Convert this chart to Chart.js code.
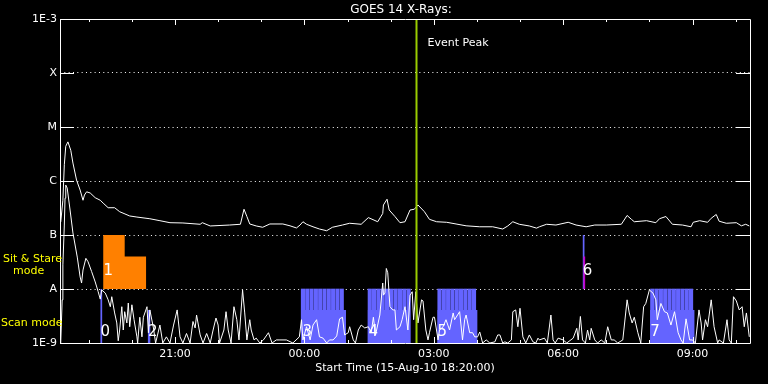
<!DOCTYPE html>
<html>
<head>
<meta charset="utf-8">
<script src="https://cdn.jsdelivr.net/npm/chart.js@4.4.1/dist/chart.umd.min.js"></script>
<style>
    html, body { margin: 0; padding: 0; background: #000; }
    canvas { display: block; }
</style>
</head>
<body>
<canvas id="goes_Chart" width="768" height="384"></canvas>
<script>
// times are minutes after the start time (15-Aug-10 18:20:00)
const chartTitle = "GOES 14 X-Rays:";
const startLabel = "Start Time (15-Aug-10 18:20:00)";
const timeTicks = [160, 340, 520, 700, 880];
const timeTickLabels = ["21:00", "00:00", "03:00", "06:00", "09:00"];
const hourMarks = [40, 100, 160, 220, 280, 340, 400, 460, 520, 580, 640, 700, 760, 820, 880, 940];
const fluxTicks = [1e-9, 1e-8, 1e-7, 1e-6, 1e-5, 1e-4, 1e-3];
const fluxTickLabels = ["1E-9", "A", "B", "C", "M", "X", "1E-3"];
const eventPeakTime = 496;

// 1-8 A channel
const longTime = [1, 4, 6, 8, 11, 15, 18, 23, 28, 32, 34, 37, 42, 49, 56, 60, 67, 76, 83, 97,
    107, 125, 139, 153, 171, 195, 198, 209, 236, 251, 256, 260, 264, 273, 282, 292, 310, 320, 329, 334,
    338, 343, 352, 361, 371, 379, 393, 403, 419, 429, 442, 449, 450, 455, 458, 466, 473, 480, 487, 493,
    498, 507, 514, 524, 538, 551, 565, 584, 602, 616, 623, 630, 639, 653, 663, 667, 677, 690, 707, 718,
    732, 744, 760, 781, 789, 795, 799, 816, 829, 834, 843, 852, 866, 878, 881, 890, 901, 906, 913, 917,
    927, 941, 948, 954, 959];
const longFlux = [1.74e-7, 4.4e-7, 2.0e-6, 4.4e-6, 5.3e-6, 3.7e-6, 2.15e-6, 1.04e-6, 6.8e-7, 4.4e-7,
    5.5e-7, 6.3e-7, 6.0e-7, 4.9e-7, 4.4e-7, 3.9e-7, 3.2e-7, 3.2e-7, 2.7e-7, 2.25e-7,
    2.15e-7, 2.0e-7, 1.84e-7, 1.69e-7, 1.67e-7, 1.58e-7, 1.69e-7, 1.47e-7, 1.53e-7, 1.58e-7,
    3.0e-7, 2.2e-7, 1.6e-7, 1.47e-7, 1.39e-7, 1.6e-7, 1.6e-7, 1.48e-7, 1.35e-7, 1.53e-7,
    1.76e-7, 1.58e-7, 1.42e-7, 1.29e-7, 1.2e-7, 1.39e-7, 1.53e-7, 1.65e-7, 1.58e-7, 2.1e-7,
    1.76e-7, 2.5e-7, 3.6e-7, 4.6e-7, 2.9e-7, 2.2e-7, 1.69e-7, 1.76e-7, 2.9e-7, 3.0e-7,
    3.6e-7, 2.7e-7, 1.95e-7, 1.76e-7, 1.72e-7, 1.6e-7, 1.48e-7, 1.42e-7, 1.42e-7, 1.29e-7,
    1.47e-7, 1.76e-7, 1.58e-7, 1.47e-7, 1.34e-7, 1.42e-7, 1.58e-7, 1.53e-7, 1.72e-7, 1.53e-7,
    1.42e-7, 1.53e-7, 1.53e-7, 1.58e-7, 2.3e-7, 1.95e-7, 1.76e-7, 1.84e-7, 1.69e-7, 2.0e-7,
    2.2e-7, 1.58e-7, 1.53e-7, 1.42e-7, 1.72e-7, 1.84e-7, 1.72e-7, 2.04e-7, 2.4e-7, 1.8e-7,
    1.65e-7, 1.69e-7, 1.48e-7, 1.58e-7, 1.47e-7];

// 0.5-4 A channel
const shortTime = [1, 3, 4, 6, 7, 8, 10, 14, 18, 24, 28, 30, 32, 36, 39, 44, 49, 53, 56, 58,
    63, 67, 70, 72, 76, 79, 81, 83, 86, 88, 90, 93, 95, 97, 100, 103, 107, 108, 111, 114,
    116, 121, 123, 125, 130, 133, 139, 143, 148, 153, 158, 163, 167, 171, 176, 181, 185, 188, 190, 195,
    199, 204, 209, 213, 217, 220, 222, 228, 231, 234, 238, 242, 246, 249, 254, 257, 260, 264, 266, 270,
    273, 278, 283, 290, 295, 301, 306, 315, 324, 333, 336, 338, 343, 348, 352, 357, 361, 366, 371, 375,
    380, 385, 389, 393, 396, 401, 403, 408, 411, 415, 419, 424, 429, 433, 436, 439, 445, 449, 450, 452,
    454, 456, 459, 463, 466, 468, 473, 476, 480, 484, 487, 490, 492, 495, 498, 503, 505, 509, 512, 514,
    519, 521, 526, 528, 533, 537, 542, 547, 549, 556, 560, 563, 565, 570, 574, 577, 581, 584, 588, 593,
    598, 605, 609, 612, 616, 619, 623, 628, 630, 634, 637, 640, 644, 648, 653, 658, 662, 665, 667, 674,
    678, 683, 686, 689, 693, 700, 705, 714, 719, 721, 724, 727, 731, 734, 737, 739, 744, 748, 753, 758,
    762, 767, 771, 776, 783, 789, 792, 796, 799, 804, 808, 812, 815, 820, 825, 829, 831, 836, 841, 845,
    850, 855, 860, 864, 867, 871, 876, 880, 884, 889, 892, 894, 898, 901, 906, 910, 915, 917, 923, 928,
    931, 934, 937, 941, 945, 949, 952, 955, 959];
const shortFlux = [1e-9, 6.3e-9, 2.8e-8, 1.53e-7, 4.8e-7, 8.4e-7, 7.4e-7, 2.9e-7, 1.09e-7, 3.9e-8,
    1.67e-8, 1.29e-8, 2.25e-8, 3.7e-8, 3.2e-8, 2.1e-8, 1.35e-8, 9.0e-9, 6.5e-9, 9.6e-9,
    8.4e-9, 6.3e-9, 4.7e-9, 7.2e-9, 3.6e-9, 2.35e-9, 1.1e-9, 1.74e-9, 4.7e-9, 1.74e-9,
    3.8e-9, 2.35e-9, 5.5e-9, 2.0e-9, 5.1e-9, 2.7e-9, 1.3e-9, 1e-9, 3.0e-9, 1.3e-9,
    3.0e-9, 4.7e-9, 1.55e-9, 4.1e-9, 1.9e-9, 1e-9, 2.15e-9, 1e-9, 1.3e-9, 1e-9,
    2.15e-9, 4.1e-9, 1.3e-9, 1e-9, 1.5e-9, 1e-9, 2.5e-9, 1.9e-9, 3.3e-9, 1.41e-9,
    1e-9, 1.5e-9, 1e-9, 1.74e-9, 2.9e-9, 2.15e-9, 1e-9, 1.74e-9, 3.8e-9, 1.74e-9,
    1e-9, 4.7e-9, 2.7e-9, 1.14e-9, 9.6e-9, 3.6e-9, 1.14e-9, 2.7e-9, 1.74e-9, 1.14e-9,
    1.23e-9, 1e-9, 1.14e-9, 1.55e-9, 1e-9, 1.14e-9, 1.14e-9, 1.14e-9, 1.0e-9, 1.3e-9,
    2.7e-9, 1.14e-9, 2.0e-9, 1.14e-9, 2.15e-9, 2.7e-9, 1.3e-9, 1.23e-9, 1e-9, 1.14e-9,
    1.14e-9, 1.35e-9, 2.8e-9, 3.0e-9, 1.41e-9, 1.55e-9, 2.0e-9, 1.14e-9, 1e-9, 1.74e-9,
    2.15e-9, 1.9e-9, 2.0e-9, 1.55e-9, 3.0e-9, 1.41e-9, 3.3e-9, 1.29e-8, 7.7e-9, 8.4e-9,
    2.4e-8, 2.0e-8, 4.7e-9, 4.1e-9, 4.1e-9, 1.74e-9, 2.0e-9, 2.7e-9, 4.7e-9, 1.74e-9,
    7.7e-9, 8.9e-9, 2.7e-9, 8.9e-9, 2.35e-9, 6.3e-9, 6.0e-9, 1.74e-9, 1.14e-9, 1.55e-9,
    3.0e-9, 3.0e-9, 1.14e-9, 1.74e-9, 2.0e-9, 2.7e-9, 1.74e-9, 3.6e-9, 2.7e-9, 3.8e-9,
    1.14e-9, 2.7e-9, 3.3e-9, 1.55e-9, 1.55e-9, 1.3e-9, 1.3e-9, 1.6e-9, 1e-9, 1.14e-9,
    1e-9, 1.05e-9, 1.41e-9, 1.41e-9, 1e-9, 1.05e-9, 1e-9, 1.14e-9, 3.8e-9, 4.1e-9,
    2.0e-9, 4.4e-9, 1.3e-9, 1e-9, 1.41e-9, 1.05e-9, 1e-9, 1.23e-9, 1.14e-9, 1.23e-9,
    1e-9, 3.3e-9, 1.14e-9, 1e-9, 1.23e-9, 1.14e-9, 1e-9, 1.23e-9, 1.87e-9, 1.14e-9,
    3.1e-9, 1.14e-9, 1e-9, 1.74e-9, 1.14e-9, 1.87e-9, 1.14e-9, 1e-9, 1.14e-9, 1e-9,
    2.0e-9, 1.14e-9, 1.14e-9, 1e-9, 1.14e-9, 6.3e-9, 3.6e-9, 2.35e-9, 3.0e-9, 1.55e-9,
    1e-9, 4.7e-9, 5.4e-9, 9.6e-9, 8.4e-9, 6.3e-9, 2.7e-9, 5.4e-9, 3.8e-9, 3.6e-9,
    2.15e-9, 3.8e-9, 1.55e-9, 1.14e-9, 1e-9, 2.8e-9, 1.14e-9, 1.14e-9, 1e-9, 4.1e-9,
    2.35e-9, 1.14e-9, 2.7e-9, 2.0e-9, 6.3e-9, 2.0e-9, 1e-9, 1.14e-9, 1e-9, 2.7e-9,
    1.14e-9, 1e-9, 7.2e-9, 6.0e-9, 4.1e-9, 4.7e-9, 2.0e-9, 3.6e-9, 1.3e-9];

// sit & stare pointing 1 (stepped block between A and B)
const stareTime = [60, 90, 90, 120];
const stareFlux = [1e-7, 1e-7, 4e-8, 4e-8];
// sit & stare pointing 6
const stareLineTime = [727, 730];
const stareMarkTime = [728, 731];
const stareMarkFlux = 4e-8;

// scan mode blocks
const scanStart = [56, 122, 336, 428, 525, 821];
const scanEnd = [59, 126, 398, 487, 581, 883];
const scanTop = [1e-8, 4.1e-9, 4.1e-9, 4.1e-9, 4.1e-9, 4.1e-9];
const scanTeeth = [338, 344, 350, 356, 362, 368, 374, 380, 386, 392,
    431, 437, 443, 449, 455, 461, 467, 473, 479, 485,
    528, 534, 540, 546, 552, 558, 564, 570, 576,
    824, 830, 836, 842, 848, 854, 860, 866, 872, 878];

const regionLabels = ["0", "1", "2", "3", "4", "5", "6", "7"];
const regionLabelTime = [63, 67, 129, 344, 436, 532, 734, 828];
const regionLabelFlux = [1.6e-9, 2.1e-8, 1.6e-9, 1.6e-9, 1.6e-9, 1.6e-9, 2.1e-8, 1.6e-9];

const BLUE = "#6464ff";
const ORANGE = "#ff8000";
const MAGENTA = "#c800c8";
const GREEN = "#99cc00";
const YELLOW = "#ffff00";
const FONT = "DejaVu Sans";

function graph() {
    let datasets = [];

    datasets.push({
        type: "line",
        data: [{ x: eventPeakTime, y: 1e-9 }, { x: eventPeakTime, y: 1e-3 }],
        borderColor: GREEN,
        borderWidth: 2,
        pointRadius: 0,
        order: 0
    });
    datasets.push({
        type: "line",
        data: longTime.map((t, i) => ({ x: t, y: longFlux[i] })),
        borderColor: "#fff",
        borderWidth: 1,
        pointRadius: 0,
        order: 1
    });
    datasets.push({
        type: "line",
        data: shortTime.map((t, i) => ({ x: t, y: shortFlux[i] })),
        borderColor: "#fff",
        borderWidth: 1,
        pointRadius: 0,
        order: 1
    });

    datasets.push({
        type: "line",
        data: stareTime.map((t, i) => ({ x: t, y: stareFlux[i] })),
        borderWidth: 0,
        pointRadius: 0,
        backgroundColor: ORANGE,
        fill: { value: 1e-8 },
        order: 3
    });
    datasets.push({
        type: "line",
        data: stareLineTime.map(t => ({ x: t, y: 1e-7 })),
        borderWidth: 0,
        pointRadius: 0,
        backgroundColor: BLUE,
        fill: { value: 1e-8 },
        order: 3
    });
    datasets.push({
        type: "line",
        data: stareMarkTime.map(t => ({ x: t, y: stareMarkFlux })),
        borderWidth: 0,
        pointRadius: 0,
        backgroundColor: MAGENTA,
        fill: { value: 1e-8 },
        order: 2
    });

    for (let i = 0; i < scanStart.length; i++) {
        datasets.push({
            type: "line",
            data: [{ x: scanStart[i], y: scanTop[i] }, { x: scanEnd[i], y: scanTop[i] }],
            borderWidth: 0,
            pointRadius: 0,
            backgroundColor: BLUE,
            fill: { value: 1e-9 },
            order: 3
        });
    }
    datasets.push({
        type: "bar",
        data: scanTeeth.map(t => ({ x: t, y: [1e-9, 1e-8] })),
        backgroundColor: BLUE,
        borderWidth: 0,
        barThickness: 3.5,
        order: 3
    });

    const framePlugin = {
        id: "frame",
        afterDatasetsDraw(chart) {
            const ctx = chart.ctx;
            const a = chart.chartArea;
            const x = chart.scales.x;
            const y = chart.scales.y;
            ctx.save();
            ctx.strokeStyle = "#fff";
            ctx.lineWidth = 1;
            ctx.beginPath();
            ctx.rect(Math.round(a.left) + 0.5, Math.round(a.top) + 0.5,
                Math.round(a.right - a.left), Math.round(a.bottom - a.top));
            // solid stubs at the class levels
            for (let k = 1; k < fluxTicks.length - 1; k++) {
                let py = Math.round(y.getPixelForValue(fluxTicks[k])) + 0.5;
                ctx.moveTo(a.left, py); ctx.lineTo(a.left + 14, py);
                ctx.moveTo(a.right - 14, py); ctx.lineTo(a.right, py);
            }
            // hour ticks
            for (let h of hourMarks) {
                let px = Math.round(x.getPixelForValue(h)) + 0.5;
                let len = timeTicks.includes(h) ? 6 : 3;
                ctx.moveTo(px, a.top); ctx.lineTo(px, a.top + len);
                ctx.moveTo(px, a.bottom); ctx.lineTo(px, a.bottom - len);
            }
            ctx.stroke();

            ctx.fillStyle = "#fff";
            ctx.textBaseline = "middle";
            ctx.textAlign = "center";
            ctx.font = "12px '" + FONT + "'";
            ctx.fillText(chartTitle, (a.left + a.right) / 2 - 4, 10);

            ctx.font = "11px '" + FONT + "'";
            ctx.textAlign = "left";
            ctx.fillText("Event Peak", x.getPixelForValue(eventPeakTime) + 11, 43);

            ctx.font = "15px '" + FONT + "'";
            ctx.textAlign = "center";
            for (let k = 0; k < regionLabels.length; k++) {
                ctx.fillText(regionLabels[k], x.getPixelForValue(regionLabelTime[k]),
                    y.getPixelForValue(regionLabelFlux[k]));
            }

            ctx.fillStyle = YELLOW;
            ctx.font = "11px '" + FONT + "'";
            ctx.textAlign = "left";
            let mid = (y.getPixelForValue(1e-7) + y.getPixelForValue(1e-8)) / 2;
            ctx.fillText("Sit & Stare", 3, mid - 3);
            ctx.fillText("mode", 13, mid + 9);
            ctx.fillText("Scan mode", 1, y.getPixelForValue(2.3e-9));
            ctx.restore();
        }
    };

    window.goes_Chart = new Chart("goes_Chart", {
        type: "line",
        data: { datasets: datasets },
        options: {
            responsive: false,
            animation: false,
            layout: { padding: { top: 19, right: 18, left: 0, bottom: 0 } },
            plugins: {
                legend: { display: false },
                tooltip: { enabled: false },
                title: { display: false }
            },
            scales: {
                x: {
                    type: "linear",
                    min: 0,
                    max: 960,
                    offset: false,
                    afterBuildTicks: s => { s.ticks = timeTicks.map(v => ({ value: v })); },
                    afterFit: s => { s.height = 41; },
                    grid: { display: false, drawTicks: false },
                    border: { display: false },
                    ticks: {
                        color: "#fff",
                        padding: 5,
                        maxRotation: 0,
                        autoSkip: false,
                        font: { family: FONT, size: 11 },
                        callback: (v, i) => timeTickLabels[i]
                    },
                    title: {
                        display: true,
                        text: startLabel,
                        color: "#fff",
                        font: { family: FONT, size: 11 },
                        padding: { top: 2, bottom: 9 }
                    }
                },
                y: {
                    type: "logarithmic",
                    min: 1e-9,
                    max: 1e-3,
                    afterBuildTicks: s => { s.ticks = fluxTicks.map(v => ({ value: v })); },
                    afterFit: s => { s.width = 60; },
                    grid: { color: "#fff", lineWidth: 1, drawTicks: false },
                    border: { display: false, dash: [1, 3.33] },
                    ticks: {
                        color: "#fff",
                        padding: 3,
                        autoSkip: false,
                        font: { family: FONT, size: 11 },
                        callback: (v, i) => fluxTickLabels[i]
                    }
                }
            }
        },
        plugins: [framePlugin]
    });
}
document.addEventListener("DOMContentLoaded", () => {
    graph();
});
</script>
</body>
</html>
